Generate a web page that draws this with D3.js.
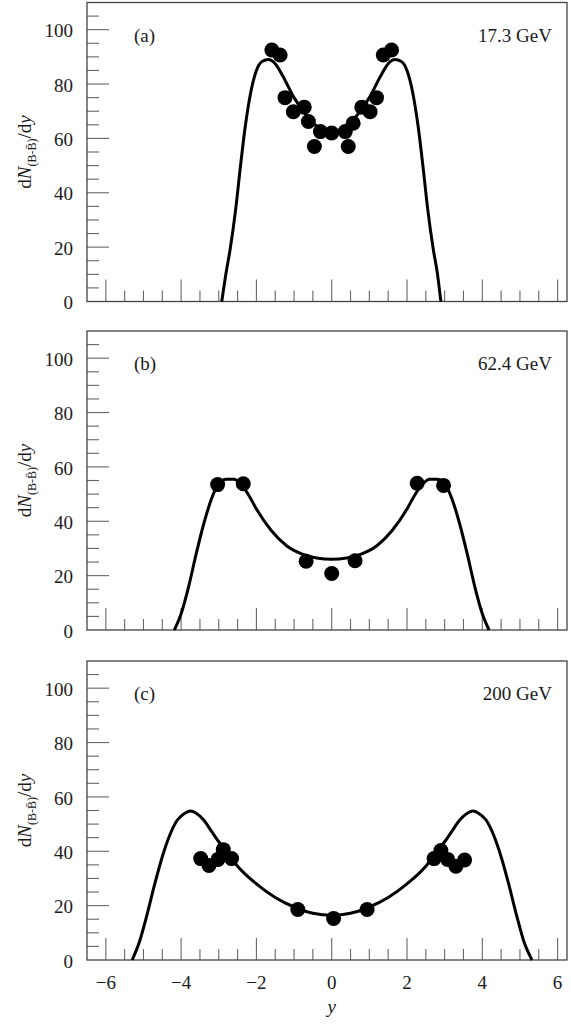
<!DOCTYPE html>
<html>
<head>
<meta charset="utf-8">
<script src="https://cdn.jsdelivr.net/npm/d3@7"></script>
<style>
  body { margin: 0; background: #fff; }
  svg { display: block; }
  .frame { fill: none; stroke: #444; stroke-width: 1.3; }
  .tick-line { stroke: #666; stroke-width: 1.1; }
  .tick-text { font-family: "Liberation Serif", "Times New Roman", serif; font-size: 19px; fill: #1a1a1a; }
  .panel-text { font-family: "Liberation Serif", "Times New Roman", serif; font-size: 19px; fill: #1a1a1a; }
  .fit-line { fill: none; stroke: #000; stroke-width: 3; }
  .dot { fill: #000; }
</style>
</head>
<body>
<div id="chart"></div>
<script>
// ---- data ----
const panelTags = ['(a)', '(b)', '(c)'];
const energies = ['17.3 GeV', '62.4 GeV', '200 GeV'];

const xDomain = [-6.5, 6.25];
const yDomain = [0, 110];
const xMajorTicks = [-6, -4, -2, 0, 2, 4, 6];
const yMajorTicks = [0, 20, 40, 60, 80, 100];

// (a) 17.3 GeV
const ptsA_x = [-1.59, -1.37, -1.24, -1.02, -0.73, -0.62, -0.46, -0.3, 0, 0.36, 0.44, 0.57, 0.8, 1.02, 1.19, 1.37, 1.59];
const ptsA_y = [92.5, 90.7, 75, 69.8, 71.5, 66.2, 57, 62.5, 62, 62.5, 57, 65.6, 71.5, 69.8, 75, 90.7, 92.5];
const curveA_x = [-2.92, -2.8, -2.7, -2.55, -2.43, -2.3, -2.15, -2.0, -1.85, -1.68, -1.5, -1.3, -1.0, -0.7, -0.4, -0.2, 0,
  0.2, 0.4, 0.7, 1.0, 1.3, 1.5, 1.68, 1.85, 2.0, 2.15, 2.3, 2.43, 2.55, 2.7, 2.8, 2.9];
const curveA_y = [0, 11, 19, 34, 49, 64, 77, 85, 88.3, 89, 87.5, 83, 75, 69, 64.5, 62.5, 62,
  62.5, 64.5, 69, 75, 83, 87.5, 89, 88.3, 85, 77, 64, 49, 34, 19, 11, 0];

// (b) 62.4 GeV
const ptsB_x = [-3.03, -2.35, -0.68, 0, 0.62, 2.27, 2.97];
const ptsB_y = [53.5, 53.8, 25.3, 20.8, 25.5, 54, 53.2];
const curveB_x = [-4.18, -4.0, -3.8, -3.6, -3.4, -3.2, -3.0, -2.8, -2.6, -2.4, -2.2, -2.0, -1.6, -1.2, -0.8, -0.4, 0,
  0.4, 0.8, 1.2, 1.6, 2.0, 2.2, 2.4, 2.6, 2.8, 3.0, 3.2, 3.4, 3.6, 3.8, 4.0, 4.18];
const curveB_y = [0, 6, 16, 28, 39, 48, 54, 55.5, 55.5, 53.5, 49.5, 44.5, 36.5, 31, 28, 26.5, 26,
  26.5, 28, 31, 36.5, 44.5, 49.5, 53.5, 55.5, 55.5, 54, 48, 39, 28, 16, 6, 0];

// (c) 200 GeV
const ptsC_x = [-3.48, -3.26, -3.02, -2.88, -2.66, -0.9, 0.05, 0.94, 2.72, 2.9, 3.08, 3.3, 3.53];
const ptsC_y = [37.3, 34.8, 37, 40.6, 37.3, 18.6, 15.3, 18.6, 37.3, 40.3, 37, 34.5, 36.8];
const curveC_x = [-5.3, -5.1, -4.9, -4.7, -4.5, -4.3, -4.1, -3.9, -3.75, -3.6, -3.4, -3.2, -3.0, -2.8, -2.5, -2.0, -1.5, -1.0, -0.5, 0,
  0.5, 1.0, 1.5, 2.0, 2.5, 2.8, 3.0, 3.2, 3.4, 3.6, 3.75, 3.9, 4.1, 4.3, 4.5, 4.7, 4.9, 5.1, 5.32];
const curveC_y = [0, 7, 17, 28, 38, 46, 51.5, 54, 54.8, 54, 51.5, 47.5, 43.5, 40, 34.5, 28, 23, 19.5, 17.2, 16.5,
  17.2, 19.5, 23, 28, 34.5, 40, 43.5, 47.5, 51.5, 54, 54.8, 54, 51.5, 46, 38, 28, 17, 7, 0];

const panels = [
  {px: ptsA_x, py: ptsA_y, cx: curveA_x, cy: curveA_y},
  {px: ptsB_x, py: ptsB_y, cx: curveB_x, cy: curveB_y},
  {px: ptsC_x, py: ptsC_y, cx: curveC_x, cy: curveC_y}
];

// ---- layout ----
const width = 571, height = 1024;
const plotLeft = 87, plotRight = 567;
const panelTops = [2.5, 331, 661];
const panelHeight = 299;

const svg = d3.select('#chart').append('svg')
  .attr('width', width)
  .attr('height', height);

const x = d3.scaleLinear().domain(xDomain).range([plotLeft, plotRight]);

const xMinor = d3.range(-6, 6.01, 0.5);
const yMinor = d3.range(0, 106, 5);

panels.forEach((p, i) => {
  const top = panelTops[i];
  const bottom = top + panelHeight;
  const y = d3.scaleLinear().domain(yDomain).range([bottom, top]);

  const g = svg.append('g').attr('class', 'panel');

  // y ticks (inside, from left frame)
  g.selectAll('line.ytick')
    .data(yMinor.filter(v => v > 0))
    .enter().append('line')
    .attr('class', 'tick-line')
    .attr('x1', plotLeft)
    .attr('x2', d => plotLeft + (yMajorTicks.includes(d) ? 22 : 12))
    .attr('y1', d => y(d))
    .attr('y2', d => y(d));

  // x ticks (inside, up from bottom)
  g.selectAll('line.xtick')
    .data(xMinor)
    .enter().append('line')
    .attr('class', 'tick-line')
    .attr('x1', d => x(d))
    .attr('x2', d => x(d))
    .attr('y1', bottom)
    .attr('y2', d => bottom - (xMajorTicks.includes(d) ? 22 : 11));

  g.append('rect')
    .attr('class', 'frame')
    .attr('x', plotLeft)
    .attr('y', top)
    .attr('width', plotRight - plotLeft)
    .attr('height', panelHeight);

  // y tick labels
  g.selectAll('text.ylab')
    .data(yMajorTicks)
    .enter().append('text')
    .attr('class', 'tick-text')
    .attr('text-anchor', 'end')
    .attr('x', 73)
    .attr('y', d => y(d))
    .attr('dy', '0.4em')
    .text(d => d);

  // y axis title
  const title = g.append('text')
    .attr('class', 'panel-text')
    .attr('text-anchor', 'middle')
    .attr('transform', 'translate(31,' + (top + panelHeight / 2) + ') rotate(-90)');
  title.append('tspan').text('d');
  title.append('tspan').attr('font-style', 'italic').text('N');
  title.append('tspan').attr('font-size', '12px').attr('dy', 5).text('(B-B\u0304)');
  title.append('tspan').attr('dy', -5).text('/d');
  title.append('tspan').attr('font-style', 'italic').text('y');

  // panel tag and energy
  g.append('text')
    .attr('class', 'panel-text')
    .attr('x', 134)
    .attr('y', top + 39)
    .text(panelTags[i]);

  g.append('text')
    .attr('class', 'panel-text')
    .attr('text-anchor', 'end')
    .attr('x', 552)
    .attr('y', top + 39)
    .text(energies[i]);

  // fit curve
  const curvePts = p.cx.map((v, k) => [v, p.cy[k]]);
  const line = d3.line()
    .x(d => x(d[0]))
    .y(d => y(d[1]))
    .curve(d3.curveMonotoneX);

  g.append('path')
    .attr('class', 'fit-line')
    .attr('d', line(curvePts));

  // data points
  g.selectAll('circle.dot')
    .data(p.px.map((v, k) => [v, p.py[k]]))
    .enter().append('circle')
    .attr('class', 'dot')
    .attr('cx', d => x(d[0]))
    .attr('cy', d => y(d[1]))
    .attr('r', 7.5);

  // x tick labels only on the bottom panel
  if (i === panels.length - 1) {
    g.selectAll('text.xlab')
      .data(xMajorTicks)
      .enter().append('text')
      .attr('class', 'tick-text')
      .attr('text-anchor', 'middle')
      .attr('x', d => x(d))
      .attr('y', bottom + 29)
      .text(d => d < 0 ? '\u2212' + Math.abs(d) : d);

    g.append('text')
      .attr('class', 'panel-text')
      .attr('font-style', 'italic')
      .attr('text-anchor', 'middle')
      .attr('x', x(0))
      .attr('y', bottom + 53)
      .text('y');
  }
});
</script>
</body>
</html>
